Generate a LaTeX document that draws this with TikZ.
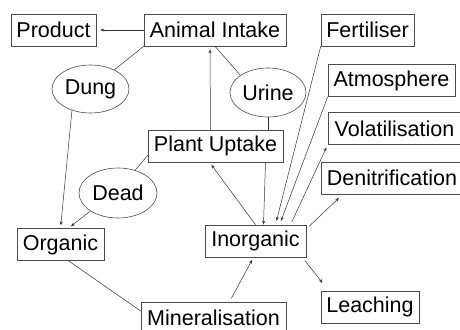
\documentclass[tikz,border=0pt]{standalone}
\usepackage{fontspec}
\setmainfont{Liberation Sans}
\usetikzlibrary{shapes.geometric,arrows.meta}

\begin{document}
\begin{tikzpicture}[x=1pt, y=-1pt,
        every node/.style={font=\fontsize{21.5pt}{24pt}\selectfont, inner sep=0pt},
        box/.style={draw=black!70, line width=0.6pt, minimum height=32pt},
        pool/.style={ellipse, draw=black!70, line width=0.6pt},
        flow/.style={draw=black!80, line width=0.5pt},
        arr/.style={flow, -{Stealth[length=4pt,width=3pt]}}]
        \useasboundingbox (0,0) rectangle (460,329);
        % Boxes
        \foreach \n/\x/\y/\w/\txt in {prod/53.5/30/85/Product, intake/215/30/142/Animal Intake,
                fert/367.5/30/93/Fertiliser, atmos/391.5/80.5/127/Atmosphere,
                volat/394.5/128.5/133/Volatilisation, denit/392/178/142/Denitrification,
                uptake/215.5/146/135/Plant Uptake, organic/60.5/244.5/87/Organic,
                inorg/255.5/241/101/Inorganic, leach/370/307/98/Leaching,
                miner/213.5/318/145/Mineralisation} {
            \node[box, minimum width=\w pt] (\n) at (\x,\y) {\txt};
        }
        % Ellipses
        \node[pool, minimum width=77pt, minimum height=48pt] (dung) at (90.5,89) {Dung};
        \node[pool, minimum width=76pt, minimum height=49pt] (urine) at (268,92.5) {Urine};
        \node[pool, minimum width=78pt, minimum height=50pt] (dead) at (118,193) {Dead};
        % Animal side
        \draw[arr, shorten >=4pt] (intake.west) -- (prod.east);
        \draw[flow] (intake.south west) -- (dung);
        \draw[arr, shorten >=3pt] (dung.229) -- (organic.north);
        \draw[arr, shorten >=3pt] (dead.213) -- ([xshift=8pt]organic.north);
        \draw[flow] ([yshift=7pt]uptake.south west) -- (dead.53);
        \draw[arr, shorten >=3pt] ([xshift=-5pt]uptake.north) -- ([xshift=-5pt]intake.south);
        \draw[flow] (intake.south) -- (urine.148);
        \draw[flow] (urine.south) -- (urine.south |- uptake.north);
        % Inorganic pool
        \draw[arr] ([xshift=50pt]uptake.south) -- ([xshift=8pt]inorg.north);
        \draw[arr, shorten >=3pt] (inorg.north) -- ([xshift=-6pt]uptake.south);
        \draw[arr, shorten >=4pt] (fert.south west) -- ([xshift=20pt]inorg.north);
        \draw[arr, shorten >=4pt] (atmos.south west) -- ([xshift=24pt]inorg.north);
        \draw[arr, shorten <=3pt, shorten >=3pt] ([xshift=35pt]inorg.north) -- (volat.south west);
        \draw[arr, shorten <=4pt, shorten >=5pt] ([yshift=12pt]inorg.east) -- ([xshift=22pt]denit.south west);
        \draw[arr, shorten <=4pt, shorten >=10pt] ([xshift=-4pt]inorg.south east) -- ([xshift=8pt]leach.north west);
        \draw[arr, shorten <=4pt, shorten >=3pt] ([xshift=16pt]miner.north) -- ([xshift=-2pt]inorg.south);
        \draw[flow] ([xshift=8pt]organic.south) -- ([yshift=7pt]miner.west);
\end{tikzpicture}
\end{document}
